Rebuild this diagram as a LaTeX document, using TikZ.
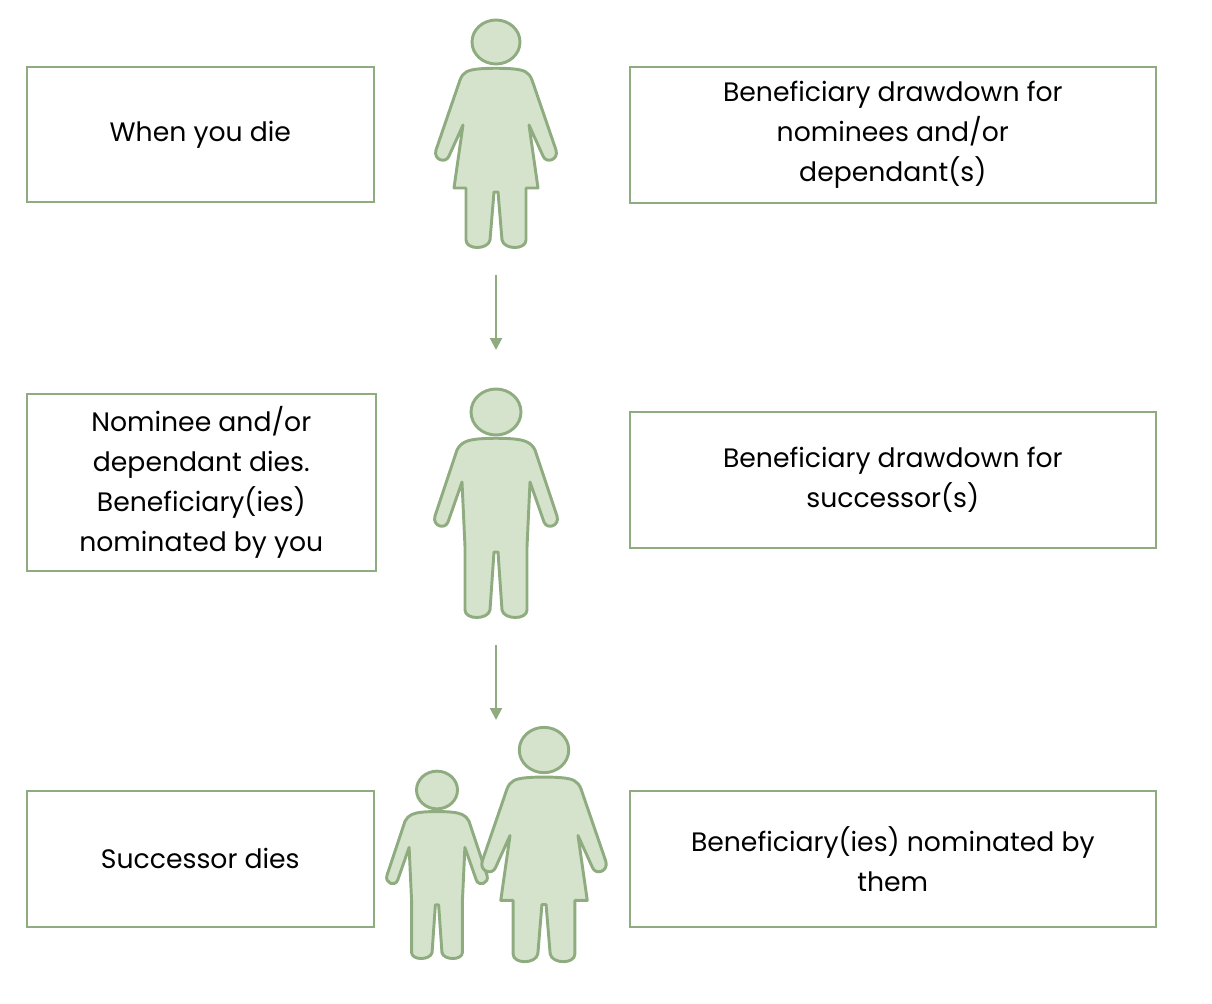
\documentclass[tikz,border=0pt]{standalone}
\usepackage{fontspec}
\setmainfont{Poppins}
\usetikzlibrary{arrows.meta}
\definecolor{gstroke}{HTML}{8FAC80}
\definecolor{gfill}{HTML}{D5E3CC}
\tikzset{
  box/.style={draw=gstroke, line width=1.2pt, anchor=north west, inner sep=0pt, align=center,
    font=\fontsize{20}{30}\selectfont, text=black},
  fig/.style={draw=gstroke, fill=gfill, line width=2.2pt, line join=round},
  flow/.style={draw=gstroke, line width=1.6pt, -{Triangle[length=9pt,width=9pt]}},
  woman/.pic={
    \path[fig] (0,0) ellipse[x radius=24, y radius=22];
    \path[fig] (-18,27) .. controls (-28,28) and (-33,30) .. (-36,38)
      -- (-60,108) .. controls (-63,118) and (-50,122) .. (-47,114)
      -- (-33,83) -- (-42,146) -- (-30,146) -- (-30,198)
      .. controls (-30,208) and (-8,208) .. (-6,198) -- (-2,150) -- (2,150) -- (6,198)
      .. controls (8,208) and (30,208) .. (30,198) -- (30,146) -- (42,146) -- (33,83)
      -- (47,114) .. controls (50,122) and (63,118) .. (60,108)
      -- (36,38) .. controls (33,30) and (28,28) .. (18,27)
      .. controls (8,26) and (-8,26) .. (-18,27) -- cycle;
  },
  man/.pic={
    \path[fig] (0,0) ellipse[x radius=25, y radius=23];
    \path[fig] (-18,27) .. controls (-28,28) and (-35,30) .. (-39,38)
      -- (-61,104) .. controls (-64,114) and (-51,118) .. (-48,110)
      -- (-34,70) -- (-31,135) -- (-31,198)
      .. controls (-31,208) and (-8,208) .. (-6,198) -- (-2,140) -- (2,140) -- (6,198)
      .. controls (8,208) and (31,208) .. (31,198) -- (31,135) -- (34,70)
      -- (48,110) .. controls (51,118) and (64,114) .. (61,104)
      -- (39,38) .. controls (35,30) and (28,28) .. (18,27)
      .. controls (8,26) and (-8,26) .. (-18,27) -- cycle;
  }
}
\begin{document}
\begin{tikzpicture}[x=0.75pt,y=-0.75pt]
\useasboundingbox (0,0) rectangle (1212,1003);
\node[box, minimum width=347*0.75pt, minimum height=135*0.75pt] (b1) at (26,66) {When you die};
\node[box, minimum width=526*0.75pt, minimum height=136*0.75pt] (b2) at (629,66) {Beneficiary drawdown for\\nominees and/or\\dependant(s)};
\node[box, minimum width=349*0.75pt, minimum height=177*0.75pt] (b3) at (26,393) {Nominee and/or\\dependant dies.\\Beneficiary(ies)\\nominated by you};
\node[box, minimum width=526*0.75pt, minimum height=136*0.75pt] (b4) at (629,411) {Beneficiary drawdown for\\successor(s)};
\node[box, minimum width=347*0.75pt, minimum height=136*0.75pt] (b5) at (26,790) {Successor dies};
\node[box, minimum width=526*0.75pt, minimum height=136*0.75pt] (b6) at (629,790) {Beneficiary(ies) nominated by\\them};
\pic at (496,42) {woman};
\pic at (496,412) {man};
\pic[scale=0.82] at (437,790) {man};
\pic[scale=1.03] at (544,750) {woman};
\coordinate (a1s) at (496,275); \coordinate (a1e) at (496,350);
\coordinate (a2s) at (496,645); \coordinate (a2e) at (496,720);
\draw[flow] (a1s) -- (a1e);
\draw[flow] (a2s) -- (a2e);
\end{tikzpicture}
\end{document}
